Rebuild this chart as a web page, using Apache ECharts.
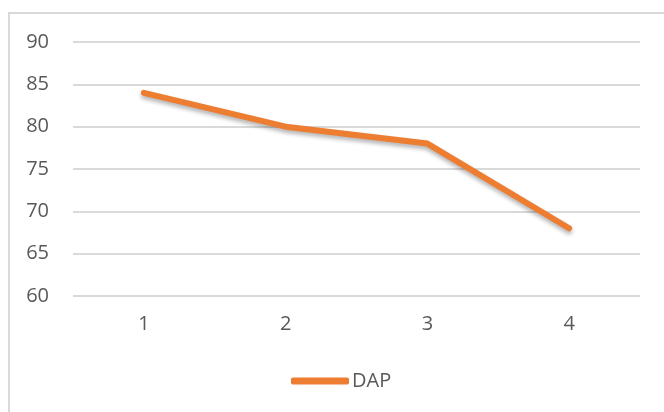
<!DOCTYPE html>
<html><head><meta charset="utf-8">
<script src="https://cdn.jsdelivr.net/npm/echarts@6/dist/echarts.min.js"></script>
<style>html,body{margin:0;padding:0;background:#fff}#c{width:664px;height:412px}</style>
</head><body><div id="c"></div>
<script>
const categories = ['1', '2', '3', '4'];
const seriesName = 'DAP';
const dapValues = [84, 80, 78, 68];
const yMin = 60, yMax = 90, yStep = 5;

const chart = echarts.init(document.getElementById('c'));
const font = 'Open Sans';
chart.setOption({
  animation: false,
  graphic: [{
    type: 'rect', shape: {x: 9, y: 13, width: 670, height: 420},
    style: {fill: 'none', stroke: '#d9d9d9', lineWidth: 2}, silent: true
  }],
  grid: {left: 73, right: 24, top: 42, bottom: 116, containLabel: false},
  legend: {
    data: [seriesName], left: 286, top: 366, padding: 5,
    icon: 'roundRect', itemWidth: 58, itemHeight: 7, itemGap: 10,
    textStyle: {color: '#595959', fontSize: 20, fontFamily: font, padding: [0,0,0,-2]}
  },
  xAxis: {
    type: 'category', data: categories, boundaryGap: true,
    axisLine: {show: false}, axisTick: {show: false},
    axisLabel: {color: '#595959', fontSize: 20, fontFamily: font, margin: 18}
  },
  yAxis: {
    type: 'value', min: yMin, max: yMax, interval: yStep,
    axisLine: {show: false}, axisTick: {show: false},
    axisLabel: {color: '#595959', fontSize: 20, fontFamily: font, margin: 24},
    splitLine: {lineStyle: {color: '#d9d9d9', width: 2}}
  },
  series: [{
    name: seriesName, type: 'line', data: dapValues,
    symbol: 'none',
    lineStyle: {color: '#ED7D31', width: 6, cap: 'round', join: 'round',
      shadowColor: 'rgba(0,0,0,0.3)', shadowBlur: 4, shadowOffsetY: 3},
    itemStyle: {color: '#ED7D31'}
  }]
});
</script></body></html>
